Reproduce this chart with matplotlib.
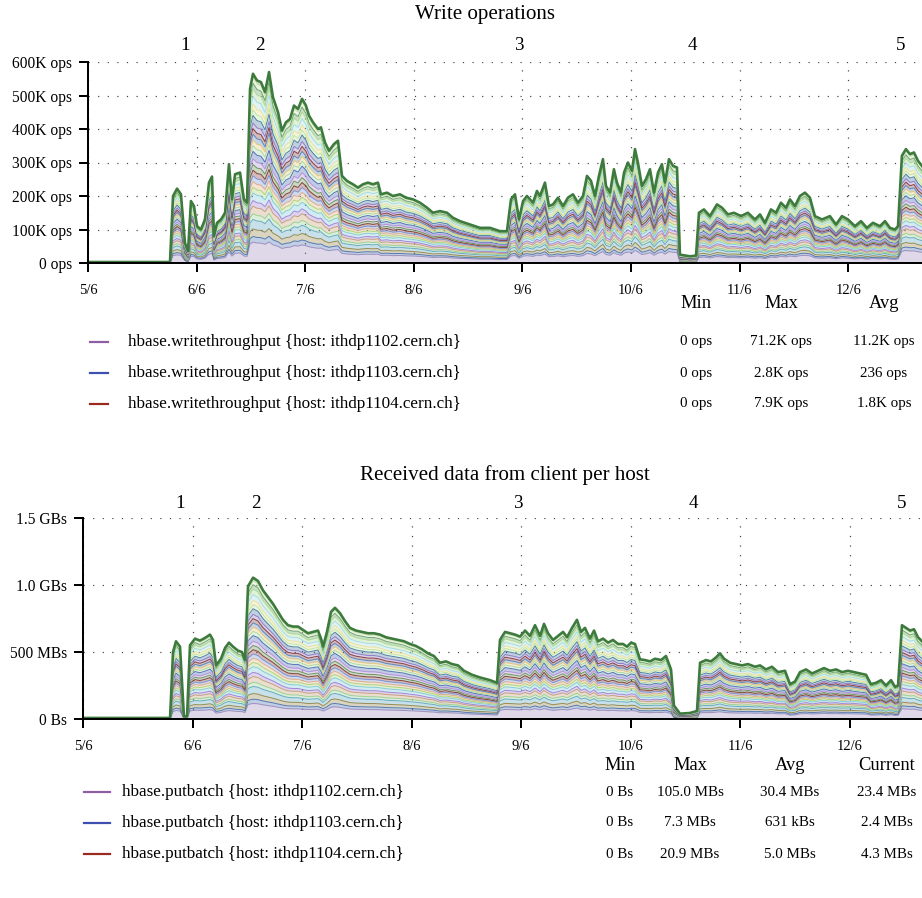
import matplotlib
matplotlib.use("Agg")
import matplotlib.pyplot as plt
from matplotlib.lines import Line2D
import numpy as np

plt.rcParams['font.family'] = ['Liberation Serif', 'DejaVu Serif']

# ---- data (x in days since 5/6) ----
write_days = [0.0, 0.755, 0.783, 0.82, 0.856, 0.893, 0.921, 0.948, 0.976, 1.004, 1.04, 1.077,
              1.114, 1.142, 1.16, 1.188, 1.225, 1.262, 1.298, 1.326, 1.354, 1.4, 1.436, 1.464,
              1.492, 1.519, 1.556, 1.593, 1.63, 1.667, 1.703, 1.75, 1.786, 1.823, 1.86, 1.897,
              1.934, 1.971, 2.007, 2.035, 2.072, 2.118, 2.145, 2.182, 2.219, 2.265, 2.302, 2.339,
              2.385, 2.44, 2.486, 2.532, 2.578, 2.624, 2.67, 2.698, 2.753, 2.808, 2.873, 2.928,
              2.993, 3.057, 3.122, 3.177, 3.241, 3.306, 3.361, 3.425, 3.517, 3.61, 3.702, 3.794,
              3.858, 3.895, 3.932, 3.969, 4.006, 4.042, 4.098, 4.134, 4.162, 4.208, 4.245, 4.282,
              4.328, 4.374, 4.42, 4.466, 4.512, 4.558, 4.595, 4.632, 4.669, 4.705, 4.742, 4.77,
              4.807, 4.843, 4.871, 4.908, 4.936, 4.972, 5.009, 5.037, 5.064, 5.101, 5.138, 5.175,
              5.212, 5.249, 5.285, 5.313, 5.35, 5.387, 5.424, 5.451, 5.543, 5.599, 5.626, 5.672,
              5.727, 5.792, 5.838, 5.893, 5.948, 6.013, 6.077, 6.142, 6.188, 6.234, 6.289, 6.335,
              6.381, 6.427, 6.464, 6.51, 6.556, 6.602, 6.648, 6.694, 6.759, 6.832, 6.888, 6.943,
              6.998, 7.063, 7.118, 7.173, 7.228, 7.293, 7.339, 7.385, 7.431, 7.459, 7.495, 7.532,
              7.569, 7.606, 7.643, 7.68]
write_kops = [3, 3, 200, 222, 205, 60, 35, 185, 170, 110, 100, 130,
              240, 258, 80, 120, 130, 150, 295, 190, 265, 270, 190, 180,
              520, 565, 545, 540, 510, 570, 495, 450, 395, 420, 430, 470,
              460, 490, 470, 440, 420, 400, 405, 360, 335, 355, 365, 260,
              245, 235, 225, 235, 240, 235, 240, 205, 210, 200, 205, 195,
              190, 180, 165, 150, 155, 150, 135, 125, 115, 105, 105, 95,
              95, 190, 205, 130, 185, 200, 180, 215, 200, 240, 170, 175,
              195, 170, 195, 205, 180, 200, 260, 245, 200, 260, 310, 230,
              210, 280, 240, 210, 270, 300, 275, 340, 300, 230, 250, 280,
              210, 270, 295, 240, 310, 290, 285, 25, 20, 22, 150, 160,
              140, 175, 165, 145, 150, 140, 150, 130, 145, 120, 160, 150,
              180, 165, 190, 170, 200, 210, 195, 140, 130, 140, 115, 140,
              130, 110, 125, 105, 120, 110, 125, 105, 100, 110, 320, 340,
              325, 330, 305, 290]

recv_days = [0.0, 0.795, 0.822, 0.849, 0.886, 0.922, 0.95, 0.977, 1.023, 1.068, 1.114, 1.16,
             1.187, 1.215, 1.26, 1.297, 1.333, 1.37, 1.416, 1.452, 1.479, 1.507, 1.553, 1.598,
             1.644, 1.689, 1.735, 1.781, 1.826, 1.872, 1.918, 1.963, 2.009, 2.055, 2.1, 2.146,
             2.174, 2.192, 2.228, 2.265, 2.301, 2.347, 2.393, 2.438, 2.493, 2.548, 2.603, 2.658,
             2.712, 2.767, 2.822, 2.877, 2.932, 2.986, 3.041, 3.096, 3.151, 3.205, 3.26, 3.315,
             3.37, 3.425, 3.479, 3.553, 3.626, 3.717, 3.781, 3.808, 3.854, 3.9, 3.945, 3.991,
             4.037, 4.082, 4.128, 4.174, 4.21, 4.247, 4.292, 4.338, 4.384, 4.42, 4.466, 4.511,
             4.548, 4.584, 4.63, 4.667, 4.703, 4.749, 4.795, 4.84, 4.886, 4.932, 4.968, 5.005,
             5.041, 5.087, 5.132, 5.178, 5.224, 5.279, 5.324, 5.37, 5.397, 5.452, 5.543, 5.607,
             5.635, 5.689, 5.735, 5.781, 5.817, 5.854, 5.909, 5.963, 6.018, 6.073, 6.137, 6.183,
             6.237, 6.292, 6.347, 6.411, 6.457, 6.502, 6.548, 6.603, 6.658, 6.712, 6.767, 6.822,
             6.877, 6.932, 6.986, 7.041, 7.096, 7.151, 7.196, 7.242, 7.288, 7.333, 7.379, 7.416,
             7.443, 7.479, 7.516, 7.553, 7.589, 7.626, 7.662]
recv_mbs = [8, 8, 500, 580, 540, 20, 20, 550, 600, 585, 605, 630,
            590, 400, 450, 530, 570, 540, 510, 500, 440, 990, 1055, 1030,
            960, 910, 860, 800, 740, 700, 690, 690, 665, 640, 650, 660,
            600, 540, 650, 800, 830, 790, 730, 680, 660, 650, 640, 640,
            630, 610, 600, 590, 580, 560, 545, 520, 490, 470, 420, 430,
            410, 400, 360, 330, 310, 290, 270, 590, 650, 640, 630, 615,
            660, 620, 700, 620, 710, 640, 590, 620, 650, 610, 680, 740,
            650, 680, 600, 660, 580, 600, 570, 590, 560, 560, 540, 570,
            560, 445, 440, 430, 450, 440, 470, 370, 100, 40, 45, 60,
            420, 440, 430, 460, 490, 450, 420, 410, 400, 410, 390, 400,
            370, 390, 350, 360, 260, 280, 350, 370, 340, 360, 380, 360,
            370, 350, 360, 350, 340, 330, 260, 270, 290, 250, 290, 240,
            250, 700, 680, 660, 670, 610, 580]

# share of each host layer in the stack (bottom -> top)
layer_share = [0.11, 0.03, 0.04, 0.05, 0.03, 0.04, 0.03, 0.04, 0.03, 0.03, 0.03, 0.03, 0.03, 0.03,
               0.04, 0.03, 0.03, 0.03, 0.03, 0.03, 0.04, 0.03, 0.03, 0.04, 0.04, 0.03, 0.03, 0.02]
layer_colors = ['#9a86b8', '#3d6bb3', '#8f7f3a', '#55a0c0', '#8dd08d', '#c59a6a', '#9a77cf',
                '#79c6de', '#a4d36f', '#e0a87a', '#6f8fd6', '#7a2a2a', '#5c8a4a', '#b18ad8',
                '#3f5fb0', '#9fd7a0', '#e9c46a', '#4b7fb8', '#7a2a2a', '#8a70c0', '#3c6e9e',
                '#b5e3a0', '#eadf8a', '#9ed9e6', '#a6d98c', '#5d9a5d', '#c7e3a8', '#4f8f4f']

day_labels = ['5/6', '6/6', '7/6', '8/6', '9/6', '10/6', '11/6', '12/6']
event_days = [0.89, 1.58, 3.98, 5.57, 7.48]
event_labels = ['1', '2', '3', '4', '5']

write_ticks = [0, 100, 200, 300, 400, 500, 600]
write_ticklabels = ['0 ops', '100K ops', '200K ops', '300K ops', '400K ops', '500K ops', '600K ops']
recv_ticks = [0, 500, 1000, 1500]
recv_ticklabels = ['0 Bs', '500 MBs', '1.0 GBs', '1.5 GBs']

hosts = ['ithdp1102.cern.ch', 'ithdp1103.cern.ch', 'ithdp1104.cern.ch']
host_colors = ['#8e5ea2', '#3f4fb0', '#9a2a1e']
write_min = ['0 ops', '0 ops', '0 ops']
write_max = ['71.2K ops', '2.8K ops', '7.9K ops']
write_avg = ['11.2K ops', '236 ops', '1.8K ops']
recv_min = ['0 Bs', '0 Bs', '0 Bs']
recv_max = ['105.0 MBs', '7.3 MBs', '20.9 MBs']
recv_avg = ['30.4 MBs', '631 kBs', '5.0 MBs']
recv_cur = ['23.4 MBs', '2.4 MBs', '4.3 MBs']

W, H = 922, 898
fig = plt.figure(figsize=(W / 72, H / 72), dpi=72)


def fx(x):
    return x / W


def fy(y):
    return 1 - y / H


def draw_stack(ax, days, totals):
    days = np.array(days, dtype=float)
    totals = np.array(totals, dtype=float)
    lower = np.zeros_like(totals)
    for top, col in zip(np.cumsum(layer_share), layer_colors):
        upper = totals * top
        ax.fill_between(days, lower, upper, color=col, alpha=0.32, lw=0)
        ax.plot(days, upper, color=col, lw=1.0, alpha=0.85)
        lower = upper
    ax.plot(days, totals, color='#3d7a3d', lw=2.6)


def style_axes(ax, xmax, ymax, ticks, ticklabels, ev_off):
    ax.set_xlim(0, xmax)
    ax.set_ylim(0, ymax)
    for s in ['top', 'right']:
        ax.spines[s].set_visible(False)
    for s in ['left', 'bottom']:
        ax.spines[s].set_linewidth(2)
    ax.set_xticks(range(len(day_labels)))
    ax.set_xticklabels(day_labels, fontsize=14.5)
    ax.set_yticks(ticks)
    ax.set_yticklabels(ticklabels, fontsize=15.5)
    ax.tick_params(direction='out', length=9, width=2)
    ax.tick_params(axis='x', pad=12)
    ax.tick_params(axis='y', pad=7)
    ax.set_axisbelow(True)
    ax.grid(True, color='#444444', linestyle=(0, (1, 7)), lw=1.2)
    for d, lab in zip(event_days, event_labels):
        ax.annotate(lab, (d, 1), xycoords=('data', 'axes fraction'), xytext=(0, ev_off),
                    textcoords='offset points', ha='center', va='center', fontsize=19)


def draw_table(header_y, row_ys, lx0, lx1, tx, col_xs, headers, metric, columns):
    for cx, h in zip(col_xs, headers):
        fig.text(fx(cx), fy(header_y), h, ha='center', va='center', fontsize=18.5)
    for i, ry in enumerate(row_ys):
        fig.add_artist(Line2D([fx(lx0), fx(lx1)], [fy(ry), fy(ry)], color=host_colors[i],
                              lw=2.2, transform=fig.transFigure))
        fig.text(fx(tx), fy(ry), metric + ' {host: ' + hosts[i] + '}', ha='left',
                 va='center', fontsize=17)
        for cx, col in zip(col_xs, columns):
            fig.text(fx(cx), fy(ry), col[i], ha='center', va='center', fontsize=15)


# ---- write operations ----
ax1 = fig.add_axes([fx(88), fy(263), fx(W - 88), 201 / H])
draw_stack(ax1, write_days, write_kops)
style_axes(ax1, 7.68, 600, write_ticks, write_ticklabels, 17)
fig.text(fx(485), fy(14), 'Write operations', ha='center', va='center', fontsize=21)
draw_table(303, [342, 373, 404], 90, 108, 128, [696, 781, 884], ['Min', 'Max', 'Avg'],
           'hbase.writethroughput', [write_min, write_max, write_avg])

# ---- received data ----
ax2 = fig.add_axes([fx(83), fy(719), fx(W - 83), 201 / H])
draw_stack(ax2, recv_days, recv_mbs)
style_axes(ax2, 7.662, 1500, recv_ticks, recv_ticklabels, 14)
fig.text(fx(505), fy(475), 'Received data from client per host', ha='center', va='center',
         fontsize=21)
draw_table(766, [792, 823, 854], 84, 110, 122, [620, 690, 790, 887],
           ['Min', 'Max', 'Avg', 'Current'], 'hbase.putbatch',
           [recv_min, recv_max, recv_avg, recv_cur])

fig.savefig('out.png', dpi=72)
